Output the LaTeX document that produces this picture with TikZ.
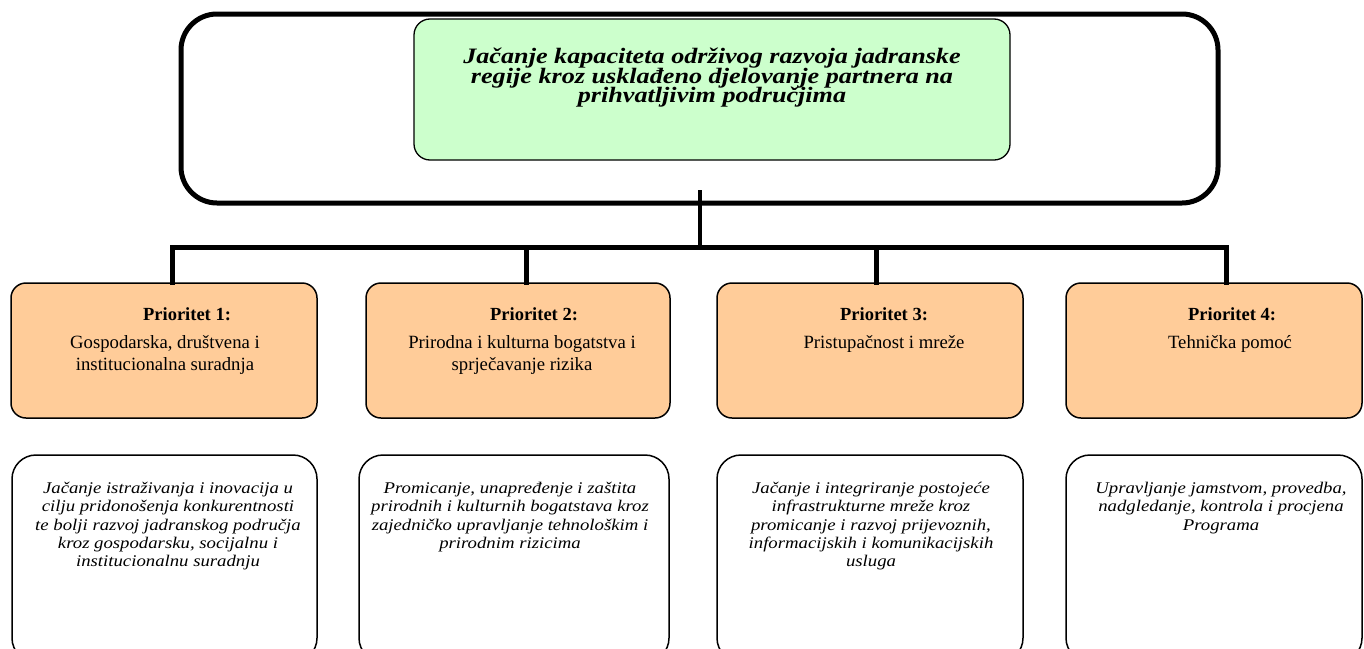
\documentclass[tikz,border=0pt]{standalone}
\usepackage{fontspec}
\setmainfont{Liberation Serif}
\newfontfamily\titlefont[FakeStretch=1.19]{Liberation Serif}
\newfontfamily\measfont[FakeStretch=1.15]{Liberation Serif}
\definecolor{goalgreen}{HTML}{CCFFCC}
\definecolor{prioorange}{HTML}{FFCC99}
\tikzset{
  outerbox/.style={draw, line width=5pt, rounded corners=36pt, inner sep=0pt},
  goalbox/.style={draw, line width=1.3pt, fill=goalgreen, rounded corners=16pt, inner sep=0pt},
  priobox/.style={draw, line width=1.5pt, fill=prioorange, rounded corners=15pt, inner sep=0pt, minimum height=135pt},
  measbox/.style={draw, line width=1.5pt, fill=white, rounded corners=24pt, inner sep=0pt, minimum height=207pt},
  conn/.style={line width=5pt, line cap=rect},
  stemline/.style={line width=4pt},
  goaltext/.style={align=center, inner sep=0pt, font={\titlefont\bfseries\itshape\fontsize{22pt}{19.6pt}\selectfont\lineskiplimit=-50pt\lineskip=0pt}},
  priohead/.style={anchor=base, inner sep=0pt, font=\bfseries\fontsize{18.5pt}{22pt}\selectfont},
  priotext/.style={anchor=north, align=center, inner sep=0pt, font=\fontsize{18.7pt}{22pt}\selectfont},
  meastext/.style={anchor=north, align=center, inner sep=0pt, font={\measfont\itshape\fontsize{16.3pt}{18.3pt}\selectfont\lineskiplimit=-50pt\lineskip=0pt}},
}
\begin{document}
\begin{tikzpicture}[x=1pt,y=-1pt]
\useasboundingbox (0,0) rectangle (1364,648);
\clip (0,0) rectangle (1364,648);
\fill[white] (0,0) rectangle (1364,648);

% goal
\node[outerbox, minimum width=1037pt, minimum height=189pt] (outer) at (699.5,108.5) {};
\node[goalbox, minimum width=596pt, minimum height=141pt] (goal) at (712,89.5) {};
\node[goaltext, anchor=north] (goalt) at (712,48) {Jačanje kapaciteta održivog razvoja jadranske\\regije kroz usklađeno djelovanje partnera na\\prihvatljivim područjima};

% priorities
\node[priobox, minimum width=306pt] (p1) at (164,350.5) {};
\node[priobox, minimum width=304pt] (p2) at (518,350.5) {};
\node[priobox, minimum width=306pt] (p3) at (870,350.5) {};
\node[priobox, minimum width=296pt] (p4) at (1214,350.5) {};

\node[priohead] (p1h) at (187,320.5) {Prioritet 1:};
\node[priohead] (p2h) at (534,320.5) {Prioritet 2:};
\node[priohead] (p3h) at (884,320.5) {Prioritet 3:};
\node[priohead] (p4h) at (1232,320.5) {Prioritet 4:};

\node[priotext] (p1t) at (165,335) {Gospodarska, društvena i\\institucionalna suradnja};
\node[priotext] (p2t) at (522,335) {Prirodna i kulturna bogatstva i\\sprječavanje rizika};
\node[priotext] (p3t) at (884,335) {Pristupačnost i mreže};
\node[priotext] (p4t) at (1230,335) {Tehnička pomoć};

% measures
\node[measbox, minimum width=305pt] (m1) at (164.5,558.5) {};
\node[measbox, minimum width=310pt] (m2) at (514,558.5) {};
\node[measbox, minimum width=306pt] (m3) at (870,558.5) {};
\node[measbox, minimum width=296pt] (m4) at (1214,558.5) {};

\node[meastext] (m1t) at (168,482) {Jačanje istraživanja i inovacija u\\cilju pridonošenja konkurentnosti\\te bolji razvoj jadranskog područja\\kroz gospodarsku, socijalnu i\\institucionalnu suradnju};
\node[meastext] (m2t) at (510,482) {Promicanje, unapređenje i zaštita\\prirodnih i kulturnih bogatstava kroz\\zajedničko upravljanje tehnološkim i\\prirodnim rizicima};
\node[meastext] (m3t) at (871,482) {Jačanje i integriranje postojeće\\infrastrukturne mreže kroz\\promicanje i razvoj prijevoznih,\\informacijskih i komunikacijskih\\usluga};
\node[meastext] (m4t) at (1221,482) {Upravljanje jamstvom, provedba,\\nadgledanje, kontrola i procjena\\Programa};

% connectors
\coordinate (stemtop) at (700,190);
\coordinate (busmid) at (700,247);
\coordinate (busL) at (172,247);
\coordinate (bus2) at (526,247);
\coordinate (bus3) at (876,247);
\coordinate (busR) at (1226,247);
\draw[stemline] (stemtop) -- (busmid);
\draw[conn] (busL) -- (busR);
\draw[conn] (busL) -- (busL |- p1.north);
\draw[conn] (bus2) -- (bus2 |- p2.north);
\draw[conn] (bus3) -- (bus3 |- p3.north);
\draw[conn] (busR) -- (busR |- p4.north);
\end{tikzpicture}
\end{document}
